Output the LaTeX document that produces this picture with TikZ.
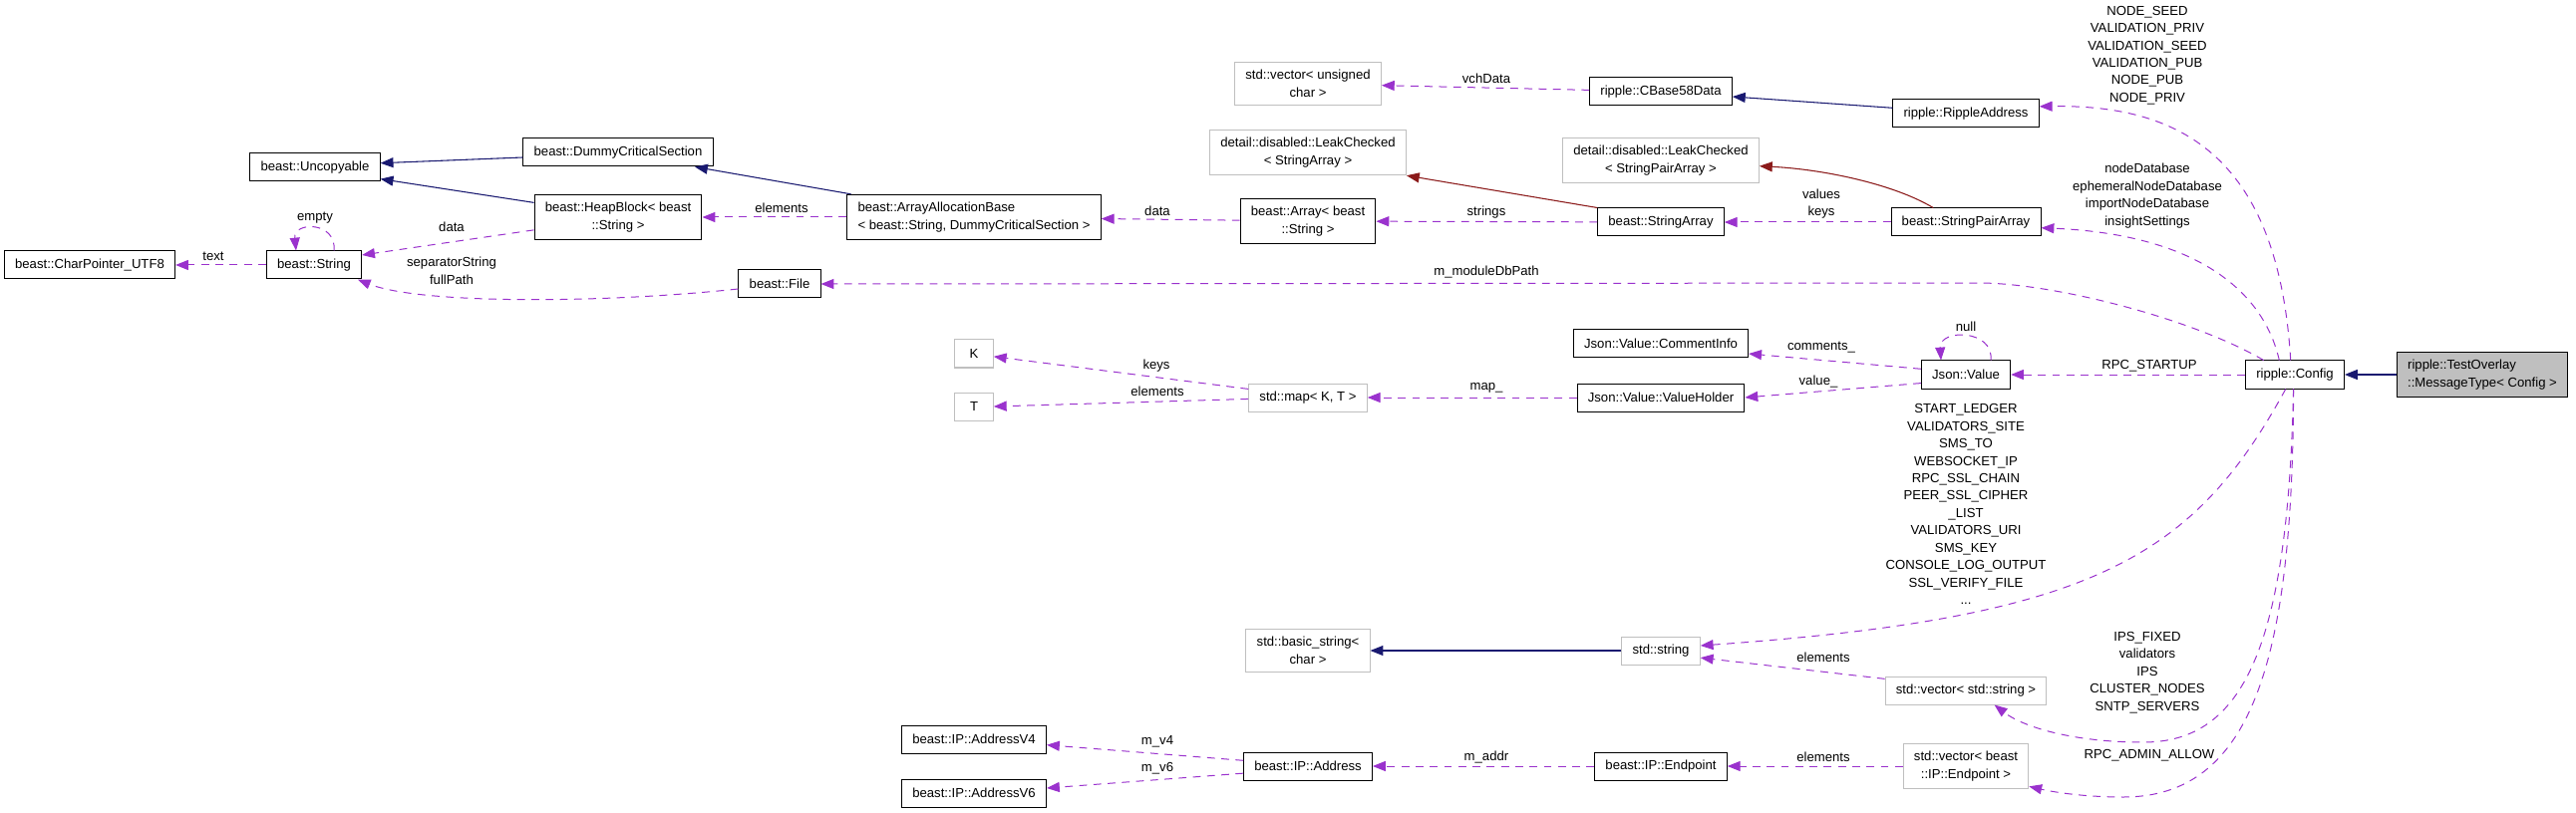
\documentclass[tikz,border=0pt]{standalone}
\usepackage{fontspec}
\setmainfont{Liberation Sans}
\usepackage{tikz}
\usetikzlibrary{arrows.meta}
\definecolor{inhblue}{HTML}{191970}
\definecolor{privred}{HTML}{8B1A1A}
\definecolor{usepurple}{HTML}{9A32CD}
\definecolor{boxgray}{HTML}{BFBFBF}
\newcommand{\docfont}{\fontsize{9.2}{12.2}\selectfont}

\begin{document}
\begin{tikzpicture}[x=0.7pt, y=-0.7pt,
    cls/.style={draw=black, line width=0.7pt, fill=white, inner xsep=7.5pt,
        inner ysep=5.5pt, minimum height=19.6pt, align=center, font=\docfont},
    ext/.style={cls, draw=boxgray},
    hl/.style={cls, fill=boxgray},
    lbl/.style={inner sep=0pt, align=center, font=\docfont},
    inh/.style={draw=inhblue, line width=0.75pt, -{Triangle[length=9pt, width=7pt]}},
    priv/.style={inh, draw=privred},
    use/.style={draw=usepurple, line width=0.7pt, dash pattern=on 5.5pt off 4.5pt,
        -{Triangle[length=9pt, width=7pt]}}]

\useasboundingbox (0,0) rectangle (2584,816);

% Classes — beast side
\node[cls] (charptr) at (90,266) {beast::CharPointer\_UTF8};
\node[cls] (str) at (315,266) {beast::String};
\node[cls] (uncopy) at (316,168) {beast::Uncopyable};
\node[cls] (dummycs) at (620,153) {beast::DummyCriticalSection};
\node[cls] (heapblk) at (620,218) {beast::HeapBlock< beast\\::String >};
\node[cls] (file) at (782,285) {beast::File};
\node[cls, align=left] (arralloc) at (977,218) {beast::ArrayAllocationBase\\< beast::String, DummyCriticalSection >};
\node[cls] (arrstr) at (1312,222) {beast::Array< beast\\::String >};
\node[ext] (lcstrarr) at (1312,153) {detail::disabled::LeakChecked\\< StringArray >};
\node[ext] (vecuchar) at (1312,84) {std::vector< unsigned\\char >};
\node[cls] (cbase) at (1666,92) {ripple::CBase58Data};
\node[ext] (lcstrpair) at (1666,161) {detail::disabled::LeakChecked\\< StringPairArray >};
\node[cls] (strarr) at (1666,223) {beast::StringArray};
\node[cls] (ripaddr) at (1972,114) {ripple::RippleAddress};
\node[cls] (strpair) at (1972,223) {beast::StringPairArray};

% Classes — Json and Config
\node[ext, minimum width=27pt] (keyK) at (977,355) {K};
\node[ext, minimum width=27pt] (valT) at (977,408) {T};
\node[ext] (stdmap) at (1312,399) {std::map< K, T >};
\node[cls] (cominfo) at (1666,345) {Json::Value::CommentInfo};
\node[cls] (valholder) at (1666,399) {Json::Value::ValueHolder};
\node[cls] (jsonval) at (1972,376) {Json::Value};
\node[cls] (cfg) at (2302,376) {ripple::Config};
\node[hl, align=left] (overlay) at (2490,376) {ripple::TestOverlay\\::MessageType< Config >};

% Classes — strings and endpoints
\node[ext] (basicstr) at (1312,653) {std::basic\_string<\\char >};
\node[ext] (stdstr) at (1666,653) {std::string};
\node[ext] (vecstr) at (1972,693) {std::vector< std::string >};
\node[ext] (vecep) at (1972,769) {std::vector< beast\\::IP::Endpoint >};
\node[cls] (addrv4) at (977,742) {beast::IP::AddressV4};
\node[cls] (addrv6) at (977,796) {beast::IP::AddressV6};
\node[cls] (ipaddr) at (1312,769) {beast::IP::Address};
\node[cls] (endpoint) at (1666,769) {beast::IP::Endpoint};

% Inheritance — blue and red solid
\draw[inh] (overlay) -- (cfg);
\draw[inh] ([yshift=4pt]ripaddr.west) -- ([yshift=-3.5pt]cbase.east);
\draw[inh] ([xshift=3pt]arralloc.north west) -- ([xshift=-13pt]dummycs.south east);
\draw[inh] ([yshift=-6pt]heapblk.north west) -- ([yshift=2pt]uncopy.south east);
\draw[inh] ([yshift=-3.5pt]dummycs.west) -- ([yshift=3pt]uncopy.east);
\draw[inh] (stdstr) -- (basicstr);
\draw[priv] (strarr.north west) -- (lcstrarr.south east);
\draw[priv] ([xshift=-23pt]strpair.north) .. controls (1900,185) and (1830,170) .. ([yshift=-4pt]lcstrpair.east);

% Members — purple dashed
\draw[use] (cbase) -- (vecuchar);
\draw[use] (strarr) -- (arrstr);
\draw[use] (strpair) -- (strarr);
\draw[use] (arrstr) -- (arralloc);
\draw[use] (arralloc) -- (heapblk);
\draw[use] ([yshift=-9pt]heapblk.west) -- ([yshift=7pt]str.east);
\draw[use] (str) -- (charptr);
\draw[use] ([xshift=14pt]str.north) .. controls (338,222) and (294,222) .. ([xshift=-12.6pt]str.north);
\draw[use] ([yshift=-3.5pt]file.west) .. controls (600,305) and (420,305) .. ([xshift=-3pt]str.south east);
\draw[use] ([xshift=17.5pt]jsonval.north) .. controls (2000,330) and (1945,330) .. ([xshift=-17.5pt]jsonval.north);
\draw[use] ([yshift=4pt]jsonval.west) -- ([yshift=-7pt]cominfo.east);
\draw[use] ([yshift=-6pt]jsonval.west) -- (valholder.east);
\draw[use] (valholder) -- (stdmap);
\draw[use] ([yshift=6pt]stdmap.west) -- ([yshift=-2pt]keyK.east);
\draw[use] ([yshift=-1pt]stdmap.west) -- (valT.east);
\draw[use] ([yshift=-2pt]vecstr.north west) -- ([yshift=-5pt]stdstr.east);
\draw[use] (vecep) -- (endpoint);
\draw[use] (endpoint) -- (ipaddr);
\draw[use] ([yshift=4pt]ipaddr.west) -- ([yshift=-4pt]addrv4.east);
\draw[use] ([yshift=-5pt]ipaddr.west) -- ([yshift=3.5pt]addrv6.east);

% Config members
\draw[use] (cfg) -- (jsonval);
\draw[use] ([xshift=-3pt]cfg.north) .. controls (2285,150) and (2180,105) .. ([yshift=5pt]ripaddr.east);
\draw[use] ([xshift=-11pt]cfg.north) .. controls (2270,290) and (2200,235) .. ([yshift=-4pt]strpair.east);
\draw[use] ([xshift=-22pt]cfg.north) .. controls (2200,320) and (2060,284) .. (1985,284) -- (file.east);
\draw[use] ([xshift=-6.5pt]cfg.south) .. controls (2200,560) and (2100,620) .. ([yshift=3.5pt]stdstr.east);
\draw[use] ([xshift=-1pt]cfg.south) .. controls (2295,650) and (2250,745) .. (2150,745)
    .. controls (2080,745) and (2030,730) .. ([xshift=20pt]vecstr.south);
\draw[use] ([xshift=-1pt]cfg.south) .. controls (2300,660) and (2260,800) .. (2130,800)
    .. controls (2090,800) and (2060,795) .. ([yshift=2pt]vecep.south east);

% Edge labels
\node[lbl] (ltext) at (214,257) {text};
\node[lbl] (lempty) at (316,219) {empty};
\node[lbl] (ldata) at (453,228) {data};
\node[lbl] (lpath) at (453,272) {separatorString\\fullPath};
\node[lbl] (lelem) at (784,209) {elements};
\node[lbl] (ldata2) at (1161,212) {data};
\node[lbl] (lstrings) at (1491,213) {strings};
\node[lbl] (lvch) at (1491,79) {vchData};
\node[lbl] (lvalkeys) at (1827,204.5) {values\\keys};
\node[lbl] (ldbpath) at (1491,273) {m\_moduleDbPath};
\node[lbl] (lkeys) at (1160,367) {keys};
\node[lbl] (lelem2) at (1161,393) {elements};
\node[lbl] (lmap) at (1491,389) {map\_};
\node[lbl] (lnull) at (1972,328) {null};
\node[lbl] (lcomments) at (1827,349) {comments\_};
\node[lbl] (lvalue) at (1824,383) {value\_};
\node[lbl] (lstartup) at (2156,367) {RPC\_STARTUP};
\node[lbl] (lseeds) at (2154,55.5) {NODE\_SEED\\VALIDATION\_PRIV\\VALIDATION\_SEED\\VALIDATION\_PUB\\NODE\_PUB\\NODE\_PRIV};
\node[lbl] (ldbs) at (2154,196.5) {nodeDatabase\\ephemeralNodeDatabase\\importNodeDatabase\\insightSettings};
\node[lbl] (lstrs) at (1972,506) {START\_LEDGER\\VALIDATORS\_SITE\\SMS\_TO\\WEBSOCKET\_IP\\RPC\_SSL\_CHAIN\\PEER\_SSL\_CIPHER\\\_LIST\\VALIDATORS\_URI\\SMS\_KEY\\CONSOLE\_LOG\_OUTPUT\\SSL\_VERIFY\_FILE\\...};
\node[lbl] (lips) at (2154,675) {IPS\_FIXED\\validators\\IPS\\CLUSTER\_NODES\\SNTP\_SERVERS};
\node[lbl] (ladmin) at (2156,758) {RPC\_ADMIN\_ALLOW};
\node[lbl] (lelem3) at (1829,660) {elements};
\node[lbl] (lelem4) at (1829,760) {elements};
\node[lbl] (laddr) at (1491,760) {m\_addr};
\node[lbl] (lv4) at (1161,744) {m\_v4};
\node[lbl] (lv6) at (1161,771) {m\_v6};

\end{tikzpicture}
\end{document}
